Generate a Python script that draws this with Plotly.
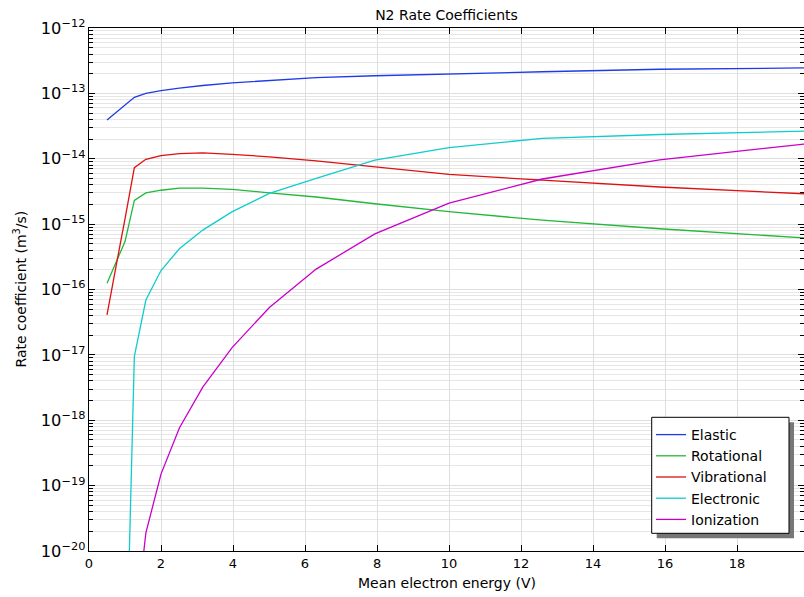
import plotly.graph_objects as go

energy = [0.5, 0.63, 0.79, 1.0, 1.26, 1.58, 2.0, 2.51, 3.16, 3.98, 5.01, 6.31, 7.94, 10.0, 12.59, 15.85, 19.95]

elastic = [3.9e-14, 4.5e-14, 5.35e-14, 6.6e-14, 8.7e-14, 1.0e-13, 1.1e-13, 1.2e-13, 1.32e-13, 1.45e-13,
           1.58e-13, 1.74e-13, 1.86e-13, 2.0e-13, 2.14e-13, 2.34e-13, 2.45e-13]
rotational = [1.25e-16, 1.8e-16, 2.95e-16, 5.4e-16, 2.3e-15, 3.0e-15, 3.3e-15, 3.55e-15, 3.55e-15, 3.4e-15,
              3.0e-15, 2.6e-15, 2.05e-15, 1.55e-15, 1.15e-15, 8.5e-16, 6.1e-16]
vibrational = [4.1e-17, 9.5e-17, 2.95e-16, 1.2e-15, 7.3e-15, 9.8e-15, 1.12e-14, 1.2e-14, 1.23e-14, 1.17e-14,
               1.07e-14, 9.3e-15, 7.6e-15, 5.75e-15, 4.7e-15, 3.7e-15, 2.9e-15]
electronic = [None, None, None, 2.5e-23, 9.5e-18, 6.9e-17, 1.95e-16, 4.2e-16, 8.1e-16, 1.55e-15,
              2.95e-15, 5.0e-15, 9.5e-15, 1.48e-14, 2.05e-14, 2.35e-14, 2.65e-14]
ionization = [None, None, None, None, 5.0e-22, 1.9e-20, 1.5e-19, 7.6e-19, 3.2e-18, 1.3e-17,
              5.3e-17, 2.05e-16, 7.1e-16, 2.1e-15, 4.9e-15, 9.6e-15, 1.7e-14]

series = [
    ("Elastic", elastic, "#1f3be8"),
    ("Rotational", rotational, "#22b838"),
    ("Vibrational", vibrational, "#dd1111"),
    ("Electronic", electronic, "#11cccc"),
    ("Ionization", ionization, "#c800c8"),
]

fig = go.Figure()
for name, vals, col in series:
    fig.add_trace(go.Scatter(x=energy, y=vals, mode="lines", name=name, legendgroup=name,
                             line=dict(color=col, width=1.3), connectgaps=False))

font = "DejaVu Sans, sans-serif"
L, R, T, B = 89, 804, 28, 551
W, H = 804, 597


def px(x):
    return (x - L) / (R - L)


def py(y):
    return (B - y) / (B - T)


fig.update_layout(
    width=W, height=H,
    margin=dict(l=L, r=W - R, t=T, b=H - B, autoexpand=False),
    paper_bgcolor="white", plot_bgcolor="white",
    font=dict(family=font, size=13, color="black"),
    title=dict(text="N2 Rate Coefficients", x=0.5, xref="paper", xanchor="center",
               y=1 - 15 / H, yanchor="middle", font=dict(size=14, family=font)),
    showlegend=True,
    legend=dict(x=px(651), xanchor="left", y=py(419), yanchor="top",
                bgcolor="rgba(0,0,0,0)", borderwidth=0,
                font=dict(size=14, family=font), tracegroupgap=0, itemwidth=30),
    xaxis=dict(range=[0, 19.86], dtick=2, tick0=0, ticks="inside", ticklen=6, tickcolor="black",
               showline=True, linecolor="black", linewidth=1, mirror="allticks",
               showgrid=True, gridcolor="#dedede", zeroline=False, automargin=False,
               tickfont=dict(size=13)),
    yaxis=dict(type="log", range=[-20, -12], dtick=1, exponentformat="power",
               ticks="inside", ticklen=6, tickcolor="black",
               showline=True, linecolor="black", linewidth=1, mirror="allticks",
               showgrid=True, gridcolor="#dedede", zeroline=False, automargin=False,
               minor=dict(ticks="inside", ticklen=4, tickcolor="black", showgrid=True, gridcolor="#e6e6e6"),
               tickfont=dict(size=13)),
)

fig.add_annotation(text="Mean electron energy (V)", xref="paper", yref="paper",
                   x=0.5, y=py(582.7), xanchor="center", yanchor="middle", showarrow=False,
                   font=dict(size=14, family=font))
fig.add_annotation(text="Rate coefficient (m<sup>3</sup>/s)", xref="paper", yref="paper",
                   x=px(20), y=0.5, xanchor="center", yanchor="middle", showarrow=False,
                   textangle=-90, font=dict(size=14, family=font))

# legend shadow and box
fig.add_shape(type="rect", xref="paper", yref="paper", x0=px(656.7), x1=px(794), y0=py(538.3), y1=py(422.3),
              fillcolor="#777777", line=dict(width=0), layer="above")
fig.add_shape(type="rect", xref="paper", yref="paper", x0=px(651.7), x1=px(789), y0=py(533.3), y1=py(417.3),
              fillcolor="white", line=dict(color="black", width=1), layer="above")

fig.write_html("out.html", config={"displayModeBar": False},
               post_script="document.body.style.margin='0px';document.body.style.overflow='hidden';")
